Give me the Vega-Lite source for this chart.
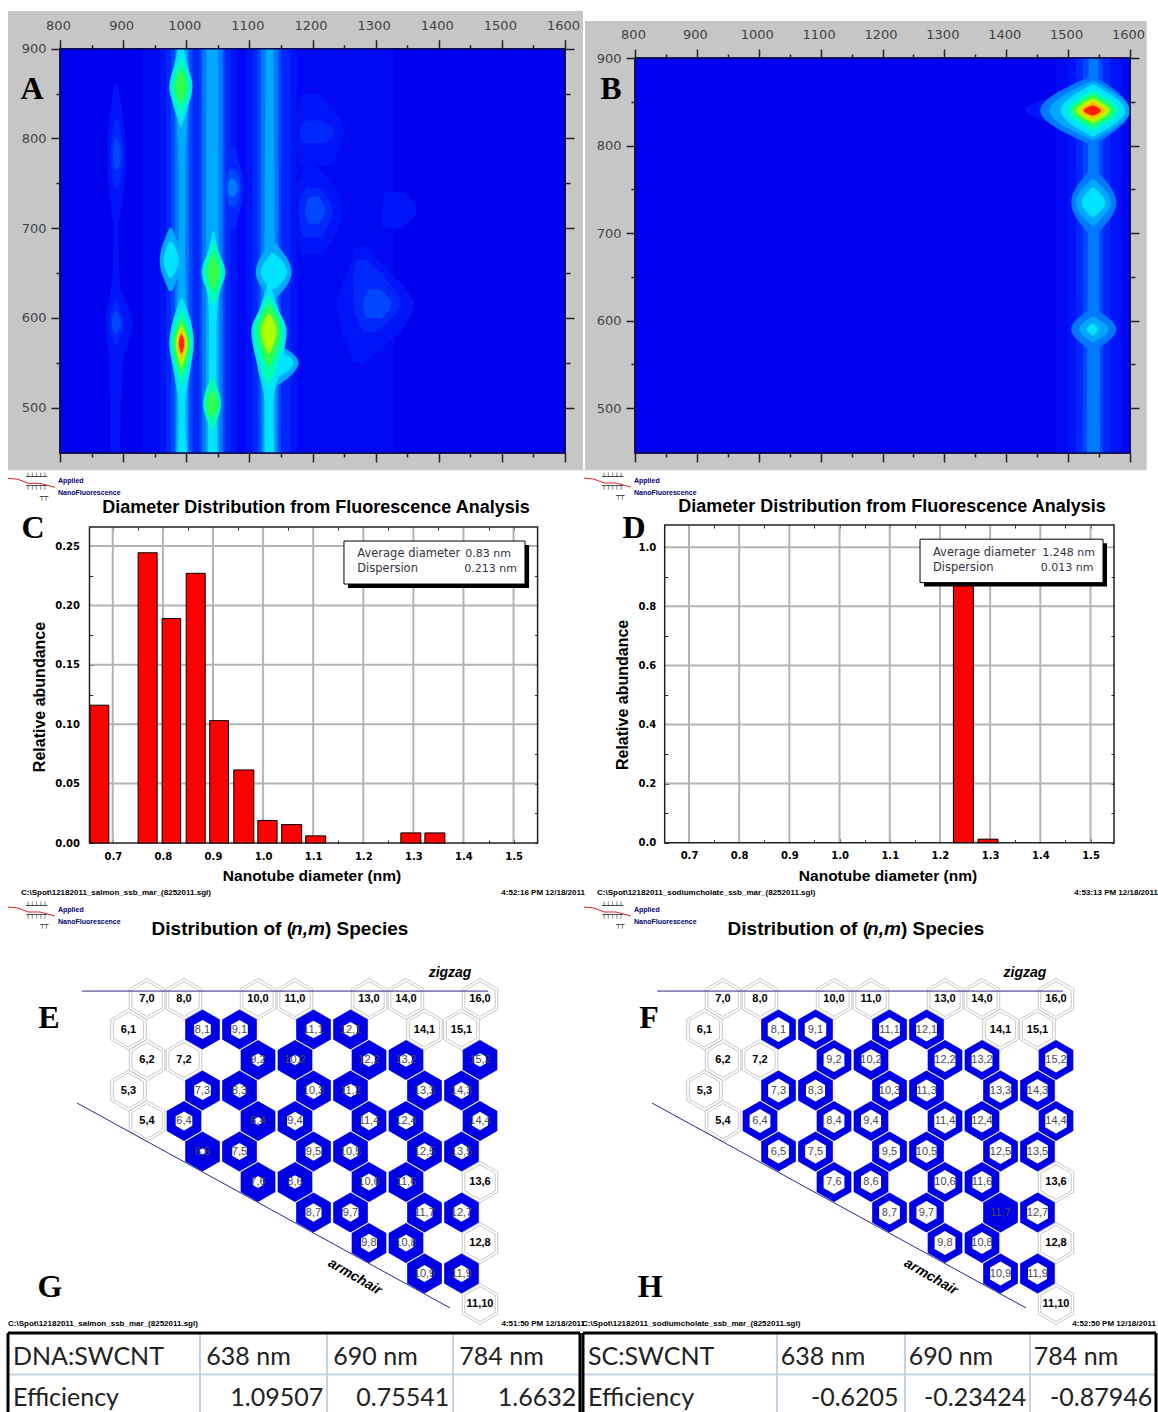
{
"$schema":"https://vega.github.io/schema/vega-lite/v6.json",
"width":1158,"height":1412,"autosize":"none","padding":0,"background":"white",
"config":{"view":{"stroke":null}},
"resolve":{"scale":{"x":"independent","y":"independent"},"axis":{"x":"independent","y":"independent"}},
"datasets":{
"heatA":[
{"c":1,"l":0,"y":449.5,"a":930,"b":1330},{"c":1,"l":0,"y":900,"a":930,"b":1330},
{"c":2,"l":1,"y":449.5,"a":958,"b":1028},{"c":2,"l":1,"y":900,"a":958,"b":1028},
{"c":3,"l":1,"y":449.5,"a":1008,"b":1080},{"c":3,"l":1,"y":900,"a":1008,"b":1080},
{"c":4,"l":1,"y":449.5,"a":1095,"b":1175},{"c":4,"l":1,"y":900,"a":1095,"b":1175},
{"c":5,"l":1,"y":670,"a":1185,"b":1215},{"c":5,"l":1,"y":720,"a":1165,"b":1248},{"c":5,"l":1,"y":770,"a":1190,"b":1205},
{"c":6,"l":1,"y":700,"a":885,"b":892},{"c":6,"l":1,"y":781,"a":875,"b":905},{"c":6,"l":1,"y":860,"a":885,"b":892},
{"c":7,"l":1,"y":449.5,"a":880,"b":895},{"c":7,"l":1,"y":550,"a":878,"b":900},{"c":7,"l":1,"y":594,"a":872,"b":915},{"c":7,"l":1,"y":640,"a":882,"b":895},{"c":7,"l":1,"y":700,"a":885,"b":892},
{"c":8,"l":1,"y":550,"a":1265,"b":1280},{"c":8,"l":1,"y":615,"a":1240,"b":1360},{"c":8,"l":1,"y":660,"a":1260,"b":1310},{"c":8,"l":1,"y":680,"a":1270,"b":1285},
{"c":9,"l":1,"y":770,"a":1180,"b":1230},{"c":9,"l":1,"y":808,"a":1170,"b":1250},{"c":9,"l":1,"y":850,"a":1185,"b":1210},
{"c":10,"l":1,"y":700,"a":1310,"b":1340},{"c":10,"l":1,"y":720,"a":1310,"b":1365},{"c":10,"l":1,"y":740,"a":1315,"b":1345},
{"c":11,"l":2,"y":449.5,"a":968,"b":1018},{"c":11,"l":2,"y":900,"a":968,"b":1018},
{"c":12,"l":2,"y":449.5,"a":1015,"b":1070},{"c":12,"l":2,"y":900,"a":1015,"b":1070},
{"c":13,"l":2,"y":449.5,"a":1105,"b":1165},{"c":13,"l":2,"y":900,"a":1105,"b":1165},
{"c":14,"l":2,"y":690,"a":1185,"b":1215},{"c":14,"l":2,"y":720,"a":1178,"b":1232},{"c":14,"l":2,"y":745,"a":1190,"b":1210},
{"c":15,"l":2,"y":700,"a":1068,"b":1078},{"c":15,"l":2,"y":745,"a":1058,"b":1090},{"c":15,"l":2,"y":790,"a":1068,"b":1078},
{"c":16,"l":2,"y":745,"a":886,"b":892},{"c":16,"l":2,"y":781,"a":880,"b":900},{"c":16,"l":2,"y":820,"a":886,"b":892},
{"c":17,"l":2,"y":570,"a":887,"b":890},{"c":17,"l":2,"y":594,"a":878,"b":900},{"c":17,"l":2,"y":620,"a":887,"b":890},
{"c":18,"l":2,"y":585,"a":1280,"b":1300},{"c":18,"l":2,"y":616,"a":1265,"b":1340},{"c":18,"l":2,"y":640,"a":1265,"b":1320},{"c":18,"l":2,"y":665,"a":1270,"b":1285},
{"c":19,"l":2,"y":795,"a":1185,"b":1220},{"c":19,"l":2,"y":808,"a":1180,"b":1235},{"c":19,"l":2,"y":820,"a":1190,"b":1215},
{"c":20,"l":3,"y":449.5,"a":976,"b":1010},{"c":20,"l":3,"y":900,"a":976,"b":1010},
{"c":21,"l":3,"y":449.5,"a":1021,"b":1062},{"c":21,"l":3,"y":900,"a":1021,"b":1062},
{"c":22,"l":3,"y":449.5,"a":1113,"b":1150},{"c":22,"l":3,"y":900,"a":1113,"b":1150},
{"c":23,"l":3,"y":705,"a":1195,"b":1210},{"c":23,"l":3,"y":720,"a":1188,"b":1220},{"c":23,"l":3,"y":735,"a":1195,"b":1210},
{"c":24,"l":3,"y":725,"a":1068,"b":1078},{"c":24,"l":3,"y":745,"a":1062,"b":1086},{"c":24,"l":3,"y":765,"a":1068,"b":1078},
{"c":25,"l":3,"y":765,"a":887,"b":891},{"c":25,"l":3,"y":781,"a":884,"b":897},{"c":25,"l":3,"y":800,"a":887,"b":891},
{"c":26,"l":3,"y":582,"a":887,"b":890},{"c":26,"l":3,"y":594,"a":882,"b":897},{"c":26,"l":3,"y":608,"a":887,"b":890},
{"c":27,"l":3,"y":600,"a":1285,"b":1310},{"c":27,"l":3,"y":616,"a":1280,"b":1325},{"c":27,"l":3,"y":632,"a":1290,"b":1305},
{"c":28,"l":4,"y":449.5,"a":982,"b":1004},{"c":28,"l":4,"y":900,"a":982,"b":1004},
{"c":29,"l":4,"y":449.5,"a":1025,"b":1058},{"c":29,"l":4,"y":900,"a":1025,"b":1058},
{"c":30,"l":4,"y":449.5,"a":1118,"b":1146},{"c":30,"l":4,"y":900,"a":1118,"b":1146},
{"c":31,"l":4,"y":735,"a":1070,"b":1076},{"c":31,"l":4,"y":745,"a":1066,"b":1082},{"c":31,"l":4,"y":755,"a":1070,"b":1076},
{"c":32,"l":5,"y":449.5,"a":983,"b":1003},{"c":32,"l":5,"y":520,"a":985,"b":1002},{"c":32,"l":5,"y":610,"a":985,"b":1001},{"c":32,"l":5,"y":640,"a":987,"b":999},{"c":32,"l":5,"y":700,"a":988,"b":998},{"c":32,"l":5,"y":760,"a":988,"b":998},{"c":32,"l":5,"y":830,"a":985,"b":1002},{"c":32,"l":5,"y":900,"a":985,"b":1002},
{"c":33,"l":5,"y":449.5,"a":1031,"b":1052},{"c":33,"l":5,"y":900,"a":1032,"b":1051},
{"c":34,"l":5,"y":449.5,"a":1122,"b":1142},{"c":34,"l":5,"y":700,"a":1124,"b":1140},{"c":34,"l":5,"y":900,"a":1126,"b":1138},
{"c":35,"l":5,"y":620,"a":1135,"b":1140},{"c":35,"l":5,"y":651,"a":1110,"b":1167},{"c":35,"l":5,"y":685,"a":1135,"b":1140},
{"c":36,"l":5,"y":630,"a":973,"b":978},{"c":36,"l":5,"y":664,"a":958,"b":992},{"c":36,"l":5,"y":700,"a":973,"b":978},
{"c":37,"l":5,"y":520,"a":1130,"b":1135},{"c":37,"l":5,"y":550,"a":1130,"b":1178},{"c":37,"l":5,"y":575,"a":1130,"b":1135},
{"c":38,"l":6,"y":449.5,"a":986,"b":1001},{"c":38,"l":6,"y":500,"a":988,"b":998},{"c":38,"l":6,"y":540,"a":980,"b":1006},{"c":38,"l":6,"y":572,"a":973,"b":1012},{"c":38,"l":6,"y":600,"a":980,"b":1006},{"c":38,"l":6,"y":622,"a":991,"b":994},
{"c":39,"l":6,"y":812,"a":991,"b":992},{"c":39,"l":6,"y":840,"a":978,"b":1005},{"c":39,"l":6,"y":858,"a":973,"b":1010},{"c":39,"l":6,"y":880,"a":980,"b":1003},{"c":39,"l":6,"y":900,"a":987,"b":996},
{"c":40,"l":6,"y":449.5,"a":1034,"b":1049},{"c":40,"l":6,"y":590,"a":1036,"b":1048},{"c":40,"l":6,"y":625,"a":1034,"b":1052},{"c":40,"l":6,"y":651,"a":1024,"b":1062},{"c":40,"l":6,"y":675,"a":1035,"b":1051},{"c":40,"l":6,"y":697,"a":1042,"b":1044},
{"c":41,"l":6,"y":449.5,"a":1124,"b":1139},{"c":41,"l":6,"y":505,"a":1124,"b":1138},{"c":41,"l":6,"y":545,"a":1113,"b":1150},{"c":41,"l":6,"y":586,"a":1103,"b":1159},{"c":41,"l":6,"y":610,"a":1116,"b":1146},{"c":41,"l":6,"y":640,"a":1130,"b":1132},
{"c":42,"l":6,"y":632,"a":1135,"b":1140},{"c":42,"l":6,"y":651,"a":1118,"b":1160},{"c":42,"l":6,"y":672,"a":1135,"b":1140},
{"c":43,"l":6,"y":645,"a":973,"b":978},{"c":43,"l":6,"y":664,"a":964,"b":988},{"c":43,"l":6,"y":685,"a":973,"b":978},
{"c":44,"l":6,"y":530,"a":1130,"b":1135},{"c":44,"l":6,"y":550,"a":1132,"b":1170},{"c":44,"l":6,"y":568,"a":1130,"b":1135},
{"c":45,"l":7,"y":525,"a":992,"b":993},{"c":45,"l":7,"y":572,"a":977,"b":1009},{"c":45,"l":7,"y":610,"a":992,"b":993},
{"c":46,"l":7,"y":825,"a":991,"b":992},{"c":46,"l":7,"y":858,"a":977,"b":1006},{"c":46,"l":7,"y":890,"a":991,"b":992},
{"c":47,"l":7,"y":615,"a":1042,"b":1044},{"c":47,"l":7,"y":651,"a":1028,"b":1058},{"c":47,"l":7,"y":685,"a":1042,"b":1044},
{"c":48,"l":7,"y":475,"a":1040,"b":1041},{"c":48,"l":7,"y":504,"a":1027,"b":1055},{"c":48,"l":7,"y":535,"a":1040,"b":1041},
{"c":49,"l":7,"y":525,"a":1130,"b":1132},{"c":49,"l":7,"y":586,"a":1108,"b":1154},{"c":49,"l":7,"y":625,"a":1130,"b":1132},
{"c":50,"l":8,"y":535,"a":992,"b":993},{"c":50,"l":8,"y":572,"a":980,"b":1005},{"c":50,"l":8,"y":600,"a":992,"b":993},
{"c":51,"l":8,"y":838,"a":991,"b":992},{"c":51,"l":8,"y":858,"a":982,"b":1001},{"c":51,"l":8,"y":878,"a":991,"b":992},
{"c":52,"l":8,"y":630,"a":1042,"b":1044},{"c":52,"l":8,"y":651,"a":1033,"b":1053},{"c":52,"l":8,"y":672,"a":1042,"b":1044},
{"c":53,"l":8,"y":488,"a":1040,"b":1041},{"c":53,"l":8,"y":504,"a":1032,"b":1050},{"c":53,"l":8,"y":520,"a":1040,"b":1041},
{"c":54,"l":8,"y":545,"a":1130,"b":1132},{"c":54,"l":8,"y":586,"a":1113,"b":1149},{"c":54,"l":8,"y":615,"a":1130,"b":1132},
{"c":55,"l":9,"y":545,"a":992,"b":993},{"c":55,"l":9,"y":572,"a":983,"b":1002},{"c":55,"l":9,"y":592,"a":992,"b":993},
{"c":56,"l":9,"y":560,"a":1130,"b":1132},{"c":56,"l":9,"y":586,"a":1119,"b":1143},{"c":56,"l":9,"y":605,"a":1130,"b":1132},
{"c":57,"l":10,"y":553,"a":992,"b":993},{"c":57,"l":10,"y":572,"a":986,"b":999},{"c":57,"l":10,"y":588,"a":992,"b":993},
{"c":58,"l":11,"y":560,"a":992,"b":993},{"c":58,"l":11,"y":572,"a":988,"b":997},{"c":58,"l":11,"y":582,"a":992,"b":993}
],
"heatB":[
{"c":1,"l":0,"y":448.6,"a":1480,"b":1600},{"c":1,"l":0,"y":900,"a":1480,"b":1600},
{"c":2,"l":1,"y":448.6,"a":1500,"b":1585},{"c":2,"l":1,"y":900,"a":1500,"b":1585},
{"c":3,"l":1,"y":820,"a":1500,"b":1560},{"c":3,"l":1,"y":840,"a":1430,"b":1600},{"c":3,"l":1,"y":860,"a":1500,"b":1560},
{"c":4,"l":2,"y":448.6,"a":1513,"b":1568},{"c":4,"l":2,"y":900,"a":1513,"b":1568},
{"c":5,"l":3,"y":448.6,"a":1524,"b":1556},{"c":5,"l":3,"y":900,"a":1524,"b":1556},
{"c":6,"l":4,"y":448.6,"a":1530,"b":1552},{"c":6,"l":4,"y":900,"a":1533,"b":1549},
{"c":7,"l":4,"y":565,"a":1539,"b":1541},{"c":7,"l":4,"y":590,"a":1505,"b":1578},{"c":7,"l":4,"y":615,"a":1539,"b":1541},
{"c":8,"l":4,"y":695,"a":1539,"b":1541},{"c":8,"l":4,"y":735,"a":1505,"b":1578},{"c":8,"l":4,"y":775,"a":1539,"b":1541},
{"c":9,"l":4,"y":800,"a":1539,"b":1541},{"c":9,"l":4,"y":840,"a":1455,"b":1600},{"c":9,"l":4,"y":880,"a":1539,"b":1541},
{"c":10,"l":5,"y":575,"a":1539,"b":1541},{"c":10,"l":5,"y":590,"a":1518,"b":1565},{"c":10,"l":5,"y":605,"a":1539,"b":1541},
{"c":11,"l":5,"y":708,"a":1539,"b":1541},{"c":11,"l":5,"y":735,"a":1512,"b":1569},{"c":11,"l":5,"y":762,"a":1539,"b":1541},
{"c":12,"l":5,"y":806,"a":1539,"b":1541},{"c":12,"l":5,"y":840,"a":1470,"b":1600},{"c":12,"l":5,"y":874,"a":1539,"b":1541},
{"c":13,"l":6,"y":583,"a":1539,"b":1541},{"c":13,"l":6,"y":590,"a":1530,"b":1548},{"c":13,"l":6,"y":597,"a":1539,"b":1541},
{"c":14,"l":6,"y":718,"a":1539,"b":1541},{"c":14,"l":6,"y":735,"a":1522,"b":1560},{"c":14,"l":6,"y":752,"a":1539,"b":1541},
{"c":15,"l":6,"y":810,"a":1539,"b":1541},{"c":15,"l":6,"y":840,"a":1488,"b":1592},{"c":15,"l":6,"y":870,"a":1539,"b":1541},
{"c":16,"l":7,"y":817,"a":1539,"b":1541},{"c":16,"l":7,"y":840,"a":1500,"b":1582},{"c":16,"l":7,"y":863,"a":1539,"b":1541},
{"c":17,"l":8,"y":822,"a":1539,"b":1541},{"c":17,"l":8,"y":840,"a":1507,"b":1573},{"c":17,"l":8,"y":858,"a":1539,"b":1541},
{"c":18,"l":9,"y":826,"a":1539,"b":1541},{"c":18,"l":9,"y":840,"a":1513,"b":1567},{"c":18,"l":9,"y":854,"a":1539,"b":1541},
{"c":19,"l":10,"y":830,"a":1539,"b":1541},{"c":19,"l":10,"y":840,"a":1520,"b":1560},{"c":19,"l":10,"y":850,"a":1539,"b":1541},
{"c":20,"l":11,"y":834,"a":1539,"b":1541},{"c":20,"l":11,"y":840,"a":1525,"b":1553},{"c":20,"l":11,"y":846,"a":1539,"b":1541}
],
"hexGray":[
{"t":"7,0","c":7,"m":0},{"t":"8,0","c":8,"m":0},{"t":"10,0","c":10,"m":0},{"t":"11,0","c":11,"m":0},{"t":"13,0","c":13,"m":0},{"t":"14,0","c":14,"m":0},{"t":"16,0","c":16,"m":0},
{"t":"6,1","c":6.5,"m":1},{"t":"14,1","c":14.5,"m":1},{"t":"15,1","c":15.5,"m":1},
{"t":"6,2","c":7,"m":2},{"t":"7,2","c":8,"m":2},{"t":"5,3","c":6.5,"m":3},{"t":"5,4","c":7,"m":4},
{"t":"13,6","c":16,"m":6},{"t":"12,8","c":16,"m":8},{"t":"11,10","c":16,"m":10}
],
"hexBlue":[
{"t":"8,1","c":8.5,"m":1,"e":0.48,"f":0.62},{"t":"9,1","c":9.5,"m":1,"e":0.48,"f":0.62},{"t":"11,1","c":11.5,"m":1,"e":0.44,"f":0.6},{"t":"12,1","c":12.5,"m":1,"e":0.38,"f":0.6},
{"t":"9,2","c":10,"m":2,"e":0.32,"f":0.6},{"t":"10,2","c":11,"m":2,"e":0.26,"f":0.55},{"t":"12,2","c":13,"m":2,"e":0.34,"f":0.6},{"t":"13,2","c":14,"m":2,"e":0.34,"f":0.6},{"t":"15,2","c":16,"m":2,"e":0.34,"f":0.62},
{"t":"7,3","c":8.5,"m":3,"e":0.48,"f":0.6},{"t":"8,3","c":9.5,"m":3,"e":0.36,"f":0.55},{"t":"10,3","c":11.5,"m":3,"e":0.42,"f":0.55},{"t":"11,3","c":12.5,"m":3,"e":0.34,"f":0.55},{"t":"13,3","c":14.5,"m":3,"e":0.42,"f":0.62},{"t":"14,3","c":15.5,"m":3,"e":0.42,"f":0.58},
{"t":"6,4","c":8,"m":4,"e":0.48,"f":0.6},{"t":"8,4","c":10,"m":4,"e":0.2,"f":0.6},{"t":"9,4","c":11,"m":4,"e":0.46,"f":0.58},{"t":"11,4","c":13,"m":4,"e":0.46,"f":0.62},{"t":"12,4","c":14,"m":4,"e":0.42,"f":0.58},{"t":"14,4","c":16,"m":4,"e":0.46,"f":0.62},
{"t":"6,5","c":8.5,"m":5,"e":0.16,"f":0.6},{"t":"7,5","c":9.5,"m":5,"e":0.42,"f":0.6},{"t":"9,5","c":11.5,"m":5,"e":0.46,"f":0.6},{"t":"10,5","c":12.5,"m":5,"e":0.42,"f":0.58},{"t":"12,5","c":14.5,"m":5,"e":0.42,"f":0.62},{"t":"13,5","c":15.5,"m":5,"e":0.4,"f":0.6},
{"t":"7,6","c":10,"m":6,"e":0.3,"f":0.6},{"t":"8,6","c":11,"m":6,"e":0.34,"f":0.58},{"t":"10,6","c":13,"m":6,"e":0.42,"f":0.6},{"t":"11,6","c":14,"m":6,"e":0.36,"f":0.55},
{"t":"8,7","c":11.5,"m":7,"e":0.46,"f":0.6},{"t":"9,7","c":12.5,"m":7,"e":0.46,"f":0.58},{"t":"11,7","c":14.5,"m":7,"e":0.46,"f":0},{"t":"12,7","c":15.5,"m":7,"e":0.46,"f":0.6},
{"t":"9,8","c":13,"m":8,"e":0.46,"f":0.6},{"t":"10,8","c":14,"m":8,"e":0.42,"f":0.55},{"t":"10,9","c":14.5,"m":9,"e":0.42,"f":0.6},{"t":"11,9","c":15.5,"m":9,"e":0.42,"f":0.55}
]
},
"layer":[
{"resolve":{"axis":{"x":"independent","y":"independent"}},"layer":[
 {"mark":{"type":"rect","fill":"#c6c6c6"},"data":{"values":[{"a":717.6,"b":1628.5,"c":430.2,"d":942}]},"encoding":{"x":{"field":"a","type":"quantitative","axis":null,"scale":{"domain":[800,1600],"range":[60,565]}},"x2":{"field":"b"},"y":{"field":"c","type":"quantitative","axis":null,"scale":{"domain":[449.5,900],"range":[453,48.7]}},"y2":{"field":"d"}}},
 {"mark":{"type":"rect","fill":"#0000f0","stroke":"#0a0a50","strokeWidth":1.5},"data":{"values":[{"a":800,"b":1600,"c":449.5,"d":900}]},"encoding":{"x":{"field":"a","type":"quantitative","title":null,"scale":{"domain":[800,1600],"range":[60,565]},"axis":{"orient":"top","offset":-48.7,"zindex":1,"values":[800,850,900,950,1000,1050,1100,1150,1200,1250,1300,1350,1400,1450,1500,1550,1600],"labelExpr":"datum.value%100==0?format(datum.value,'d'):''","labelFont":"DejaVu Sans","labelFontSize":13,"labelColor":"#444","labelPadding":7,"labelOffset":-2,"labelOverlap":false,"labelFlush":false,"grid":false,"tickColor":"#222","tickWidth":1.5,"tickSize":{"condition":{"test":"datum.value%100==0","value":9},"value":4},"domain":false}},"x2":{"field":"b"},"y":{"field":"c","type":"quantitative","title":null,"scale":{"domain":[449.5,900],"range":[453,48.7]},"axis":{"orient":"left","offset":-60,"zindex":1,"values":[500,550,600,650,700,750,800,850,900],"labelExpr":"datum.value%100==0?format(datum.value,'d'):''","labelFont":"DejaVu Sans","labelFontSize":13,"labelColor":"#444","labelPadding":5,"labelOverlap":false,"labelFlush":false,"grid":false,"tickColor":"#222","tickWidth":1.5,"tickSize":{"condition":{"test":"datum.value%100==0","value":9},"value":4},"domain":false}},"y2":{"field":"d"}}},
 {"mark":{"type":"area","orient":"horizontal","interpolate":"monotone"},"data":{"name":"heatA"},"encoding":{"y":{"field":"y","type":"quantitative","axis":null,"scale":{"domain":[449.5,900],"range":[453,48.7]}},"x":{"field":"a","type":"quantitative","axis":null,"scale":{"domain":[800,1600],"range":[60,565]}},"x2":{"field":"b"},"detail":{"field":"c"},"color":{"field":"l","type":"ordinal","legend":null,"scale":{"domain":[0,1,2,3,4,5,6,7,8,9,10,11],"range":["#0008f4","#0014f8","#0028fc","#0048ff","#0078ff","#00a8ff","#00e4ff","#00ffb0","#30ff50","#b0ff00","#ffc000","#ff2000"]}}}},
 {"mark":{"type":"rect","fill":null,"stroke":"#0a0a50","strokeWidth":1.5},"data":{"values":[{"a":800,"b":1600,"c":449.5,"d":900}]},"encoding":{"x":{"field":"a","type":"quantitative","title":null,"scale":{"domain":[800,1600],"range":[60,565]},"axis":{"orient":"bottom","offset":-959,"zindex":1,"values":[800,850,900,950,1000,1050,1100,1150,1200,1250,1300,1350,1400,1450,1500,1550,1600],"labels":false,"grid":false,"tickColor":"#222","tickWidth":1.5,"tickSize":{"condition":{"test":"datum.value%100==0","value":9},"value":4},"domain":false}},"x2":{"field":"b"},"y":{"field":"c","type":"quantitative","title":null,"scale":{"domain":[449.5,900],"range":[453,48.7]},"axis":{"orient":"right","offset":-593,"zindex":1,"values":[500,550,600,650,700,750,800,850,900],"labels":false,"grid":false,"tickColor":"#222","tickWidth":1.5,"tickSize":{"condition":{"test":"datum.value%100==0","value":9},"value":5},"domain":false}},"y2":{"field":"d"}}},
 {"mark":{"type":"text","font":"Liberation Serif","fontWeight":"bold","fontSize":32,"color":"#000"},"data":{"values":[{"x":755.6,"y":855,"t":"A"}]},"encoding":{"x":{"field":"x","type":"quantitative","axis":null,"scale":{"domain":[800,1600],"range":[60,565]}},"y":{"field":"y","type":"quantitative","axis":null,"scale":{"domain":[449.5,900],"range":[453,48.7]}},"text":{"field":"t"}}},
 {"mark":{"type":"text","font":"Liberation Sans","fontWeight":"bold","fontSize":7,"color":"#000070","align":"left"},"data":{"values":[{"x":796.8,"y":417.9,"t":"Applied"},{"x":796.8,"y":404.5,"t":"NanoFluorescence"}]},"encoding":{"x":{"field":"x","type":"quantitative","axis":null,"scale":{"domain":[800,1600],"range":[60,565]}},"y":{"field":"y","type":"quantitative","axis":null,"scale":{"domain":[449.5,900],"range":[453,48.7]}},"text":{"field":"t"}}},
 {"mark":{"type":"text","font":"DejaVu Sans","fontSize":7,"color":"#222","align":"left"},"data":{"values":[{"x":746,"y":422.4,"t":"┴┴┴┴┴"},{"x":746,"y":412.3,"t":"┬┬┬┬┬"},{"x":768,"y":401,"t":"┬┬"}]},"encoding":{"x":{"field":"x","type":"quantitative","axis":null,"scale":{"domain":[800,1600],"range":[60,565]}},"y":{"field":"y","type":"quantitative","axis":null,"scale":{"domain":[449.5,900],"range":[453,48.7]}},"text":{"field":"t"}}},
 {"mark":{"type":"line","color":"#e02020","strokeWidth":1},"data":{"values":[{"x":717.6,"y":421.3},{"x":733.5,"y":420.2},{"x":749.3,"y":415.7},{"x":768.3,"y":415.7},{"x":792.1,"y":411.3}]},"encoding":{"x":{"field":"x","type":"quantitative","axis":null,"scale":{"domain":[800,1600],"range":[60,565]}},"y":{"field":"y","type":"quantitative","axis":null,"scale":{"domain":[449.5,900],"range":[453,48.7]}}}}
]},
{"resolve":{"axis":{"x":"independent","y":"independent"}},"layer":[
 {"mark":{"type":"rect","fill":"#c6c6c6"},"data":{"values":[{"a":719.2,"b":1627,"c":429,"d":942.3}]},"encoding":{"x":{"field":"a","type":"quantitative","axis":null,"scale":{"domain":[800,1600],"range":[635,1130]}},"x2":{"field":"b"},"y":{"field":"c","type":"quantitative","axis":null,"scale":{"domain":[448.6,900],"range":[453,58]}},"y2":{"field":"d"}}},
 {"mark":{"type":"rect","fill":"#0000f0","stroke":"#0a0a50","strokeWidth":1.5},"data":{"values":[{"a":800,"b":1600,"c":448.6,"d":900}]},"encoding":{"x":{"field":"a","type":"quantitative","title":null,"scale":{"domain":[800,1600],"range":[635,1130]},"axis":{"orient":"top","offset":-58,"zindex":1,"values":[800,850,900,950,1000,1050,1100,1150,1200,1250,1300,1350,1400,1450,1500,1550,1600],"labelExpr":"datum.value%100==0?format(datum.value,'d'):''","labelFont":"DejaVu Sans","labelFontSize":13,"labelColor":"#444","labelPadding":8,"labelOffset":-2,"labelOverlap":false,"labelFlush":false,"grid":false,"tickColor":"#222","tickWidth":1.5,"tickSize":{"condition":{"test":"datum.value%100==0","value":9},"value":4},"domain":false}},"x2":{"field":"b"},"y":{"field":"c","type":"quantitative","title":null,"scale":{"domain":[448.6,900],"range":[453,58]},"axis":{"orient":"left","offset":-635,"zindex":1,"values":[500,550,600,650,700,750,800,850,900],"labelExpr":"datum.value%100==0?format(datum.value,'d'):''","labelFont":"DejaVu Sans","labelFontSize":13,"labelColor":"#444","labelPadding":5,"labelOverlap":false,"labelFlush":false,"grid":false,"tickColor":"#222","tickWidth":1.5,"tickSize":{"condition":{"test":"datum.value%100==0","value":9},"value":4},"domain":false}},"y2":{"field":"d"}}},
 {"mark":{"type":"area","orient":"horizontal","interpolate":"monotone"},"data":{"name":"heatB"},"encoding":{"y":{"field":"y","type":"quantitative","axis":null,"scale":{"domain":[448.6,900],"range":[453,58]}},"x":{"field":"a","type":"quantitative","axis":null,"scale":{"domain":[800,1600],"range":[635,1130]}},"x2":{"field":"b"},"detail":{"field":"c"},"color":{"field":"l","type":"ordinal","legend":null,"scale":{"domain":[0,1,2,3,4,5,6,7,8,9,10,11],"range":["#0008f4","#0014f8","#0028fc","#0048ff","#0078ff","#00a8ff","#00e4ff","#00ffb0","#30ff50","#b0ff00","#ffc000","#ff2000"]}}}},
 {"mark":{"type":"rect","fill":null,"stroke":"#0a0a50","strokeWidth":1.5},"data":{"values":[{"a":800,"b":1600,"c":448.6,"d":900}]},"encoding":{"x":{"field":"a","type":"quantitative","title":null,"scale":{"domain":[800,1600],"range":[635,1130]},"axis":{"orient":"bottom","offset":-959,"zindex":1,"values":[800,850,900,950,1000,1050,1100,1150,1200,1250,1300,1350,1400,1450,1500,1550,1600],"labels":false,"grid":false,"tickColor":"#222","tickWidth":1.5,"tickSize":{"condition":{"test":"datum.value%100==0","value":9},"value":4},"domain":false}},"x2":{"field":"b"},"y":{"field":"c","type":"quantitative","title":null,"scale":{"domain":[448.6,900],"range":[453,58]},"axis":{"orient":"right","offset":-28,"zindex":1,"values":[500,550,600,650,700,750,800,850,900],"labels":false,"grid":false,"tickColor":"#222","tickWidth":1.5,"tickSize":{"condition":{"test":"datum.value%100==0","value":9},"value":5},"domain":false}},"y2":{"field":"d"}}},
 {"mark":{"type":"text","font":"Liberation Serif","fontWeight":"bold","fontSize":32,"color":"#000"},"data":{"values":[{"x":761,"y":864.6,"t":"B"}]},"encoding":{"x":{"field":"x","type":"quantitative","axis":null,"scale":{"domain":[800,1600],"range":[635,1130]}},"y":{"field":"y","type":"quantitative","axis":null,"scale":{"domain":[448.6,900],"range":[453,58]}},"text":{"field":"t"}}},
 {"mark":{"type":"text","font":"Liberation Sans","fontWeight":"bold","fontSize":7,"color":"#000070","align":"left"},"data":{"values":[{"x":798.4,"y":416.6,"t":"Applied"},{"x":798.4,"y":402.8,"t":"NanoFluorescence"}]},"encoding":{"x":{"field":"x","type":"quantitative","axis":null,"scale":{"domain":[800,1600],"range":[635,1130]}},"y":{"field":"y","type":"quantitative","axis":null,"scale":{"domain":[448.6,900],"range":[453,58]}},"text":{"field":"t"}}},
 {"mark":{"type":"text","font":"DejaVu Sans","fontSize":7,"color":"#222","align":"left"},"data":{"values":[{"x":746.7,"y":421.1,"t":"┴┴┴┴┴"},{"x":746.7,"y":410.8,"t":"┬┬┬┬┬"},{"x":769.3,"y":399.4,"t":"┬┬"}]},"encoding":{"x":{"field":"x","type":"quantitative","axis":null,"scale":{"domain":[800,1600],"range":[635,1130]}},"y":{"field":"y","type":"quantitative","axis":null,"scale":{"domain":[448.6,900],"range":[453,58]}},"text":{"field":"t"}}},
 {"mark":{"type":"line","color":"#e02020","strokeWidth":1},"data":{"values":[{"x":717.6,"y":420},{"x":733.7,"y":418.8},{"x":749.9,"y":414.3},{"x":769.3,"y":414.3},{"x":793.5,"y":409.7}]},"encoding":{"x":{"field":"x","type":"quantitative","axis":null,"scale":{"domain":[800,1600],"range":[635,1130]}},"y":{"field":"y","type":"quantitative","axis":null,"scale":{"domain":[448.6,900],"range":[453,58]}}}}
]},
{"resolve":{"axis":{"x":"independent","y":"independent"}},"layer":[
 {"mark":{"type":"rule","color":"#b4b4b4","strokeWidth":2},"data":{"values":[{"a":0.7},{"a":0.8},{"a":0.9},{"a":1.0},{"a":1.1},{"a":1.2},{"a":1.3},{"a":1.4},{"a":1.5}]},"encoding":{"x":{"field":"a","type":"quantitative","axis":null,"scale":{"domain":[0.6535,1.548],"range":[89.5,537.6]}},"y":{"datum":0,"type":"quantitative","axis":null,"scale":{"domain":[0,0.266],"range":[843,527]}},"y2":{"datum":0.266}}},
 {"mark":{"type":"rule","color":"#b4b4b4","strokeWidth":2},"data":{"values":[{"c":0.05},{"c":0.1},{"c":0.15},{"c":0.2},{"c":0.25}]},"encoding":{"y":{"field":"c","type":"quantitative","axis":null,"scale":{"domain":[0,0.266],"range":[843,527]}},"x":{"datum":0.6535,"type":"quantitative","axis":null,"scale":{"domain":[0.6535,1.548],"range":[89.5,537.6]}},"x2":{"datum":1.548}}},
 {"mark":{"type":"rect","fill":null,"stroke":"#222","strokeWidth":1.5},"data":{"values":[{"a":0.6535,"b":1.548,"c":0,"d":0.266}]},"encoding":{"x":{"field":"a","type":"quantitative","title":null,"scale":{"domain":[0.6535,1.548],"range":[89.5,537.6]},"axis":{"orient":"bottom","offset":-569,"values":[0.7,0.8,0.9,1.0,1.1,1.2,1.3,1.4,1.5],"format":".1f","labelFont":"DejaVu Sans","labelFontWeight":"bold","labelFontSize":10,"labelColor":"#000","labelPadding":12,"labelFlush":false,"labelOverlap":false,"grid":false,"tickColor":"#222","tickSize":-4,"domain":false}},"x2":{"field":"b"},"y":{"field":"c","type":"quantitative","title":null,"scale":{"domain":[0,0.266],"range":[843,527]},"axis":{"orient":"left","offset":-89.5,"values":[0,0.05,0.1,0.15,0.2,0.25],"format":".2f","labelFont":"DejaVu Sans","labelFontWeight":"bold","labelFontSize":10,"labelColor":"#000","labelPadding":14,"labelFlush":false,"labelOverlap":false,"grid":false,"tickColor":"#222","tickSize":-4,"domain":false}},"y2":{"field":"d"}}},
 {"mark":{"type":"rect","opacity":0},"data":{"values":[{"a":0.6535,"b":1.548,"c":0,"d":0.266}]},"encoding":{"x":{"field":"a","type":"quantitative","title":null,"scale":{"domain":[0.6535,1.548],"range":[89.5,537.6]},"axis":{"orient":"top","offset":-527,"values":[0.7,0.75,0.8,0.85,0.9,0.95,1.0,1.05,1.1,1.15,1.2,1.25,1.3,1.35,1.4,1.45,1.5],"labels":false,"grid":false,"tickColor":"#222","tickSize":-3,"domain":false}},"x2":{"field":"b"},"y":{"field":"c","type":"quantitative","title":null,"scale":{"domain":[0,0.266],"range":[843,527]},"axis":{"orient":"right","offset":-620.4,"values":[0,0.025,0.05,0.075,0.1,0.125,0.15,0.175,0.2,0.225,0.25],"labels":false,"grid":false,"tickColor":"#222","tickSize":-3,"domain":false}},"y2":{"field":"d"}}},
 {"mark":{"type":"rect","opacity":0},"data":{"values":[{"a":0.6535,"b":1.548,"c":0,"d":0.266}]},"encoding":{"x":{"field":"a","type":"quantitative","title":null,"scale":{"domain":[0.6535,1.548],"range":[89.5,537.6]},"axis":{"orient":"bottom","offset":-569,"values":[0.75,0.85,0.95,1.05,1.15,1.25,1.35,1.45],"labels":false,"grid":false,"tickColor":"#222","tickSize":-3,"domain":false}},"x2":{"field":"b"},"y":{"field":"c","type":"quantitative","title":null,"scale":{"domain":[0,0.266],"range":[843,527]},"axis":{"orient":"left","offset":-89.5,"values":[0.025,0.075,0.125,0.175,0.225],"labels":false,"grid":false,"tickColor":"#222","tickSize":-3,"domain":false}},"y2":{"field":"d"}}},
 {"mark":{"type":"bar","fill":"#ff0000","stroke":"#000","strokeWidth":1},"data":{"values":[{"a":0.6545,"b":0.692,"v":0.116},{"a":0.7505,"b":0.7885,"v":0.2443},{"a":0.7985,"b":0.8355,"v":0.189},{"a":0.8465,"b":0.8845,"v":0.227},{"a":0.8935,"b":0.931,"v":0.103},{"a":0.9415,"b":0.9815,"v":0.0615},{"a":0.9895,"b":1.028,"v":0.019},{"a":1.037,"b":1.077,"v":0.0155},{"a":1.085,"b":1.125,"v":0.006},{"a":1.275,"b":1.315,"v":0.0085},{"a":1.323,"b":1.363,"v":0.0085}]},"encoding":{"x":{"field":"a","type":"quantitative","axis":null,"scale":{"domain":[0.6535,1.548],"range":[89.5,537.6]}},"x2":{"field":"b"},"y":{"field":"v","type":"quantitative","axis":null,"scale":{"domain":[0,0.266],"range":[843,527]}},"y2":{"datum":0}}},
 {"mark":{"type":"rect","fill":"#000"},"data":{"values":[{"a":1.1695,"b":1.531,"c":0.2146,"d":0.2508}]},"encoding":{"x":{"field":"a","type":"quantitative","axis":null,"scale":{"domain":[0.6535,1.548],"range":[89.5,537.6]}},"x2":{"field":"b"},"y":{"field":"c","type":"quantitative","axis":null,"scale":{"domain":[0,0.266],"range":[843,527]}},"y2":{"field":"d"}}},
 {"mark":{"type":"rect","fill":"#fff","stroke":"#000","strokeWidth":1},"data":{"values":[{"a":1.1615,"b":1.5228,"c":0.218,"d":0.2542}]},"encoding":{"x":{"field":"a","type":"quantitative","axis":null,"scale":{"domain":[0.6535,1.548],"range":[89.5,537.6]}},"x2":{"field":"b"},"y":{"field":"c","type":"quantitative","axis":null,"scale":{"domain":[0,0.266],"range":[843,527]}},"y2":{"field":"d"}}},
 {"mark":{"type":"text","font":"DejaVu Sans","fontSize":11.5,"color":"#334","align":"left"},"data":{"values":[{"x":1.188,"y":0.2432,"t":"Average diameter"},{"x":1.188,"y":0.2306,"t":"Dispersion"}]},"encoding":{"x":{"field":"x","type":"quantitative","axis":null,"scale":{"domain":[0.6535,1.548],"range":[89.5,537.6]}},"y":{"field":"y","type":"quantitative","axis":null,"scale":{"domain":[0,0.266],"range":[843,527]}},"text":{"field":"t"}}},
 {"mark":{"type":"text","font":"DejaVu Sans","fontSize":11,"color":"#334","align":"right"},"data":{"values":[{"x":1.495,"y":0.2432,"t":"0.83 nm"},{"x":1.507,"y":0.2306,"t":"0.213 nm"}]},"encoding":{"x":{"field":"x","type":"quantitative","axis":null,"scale":{"domain":[0.6535,1.548],"range":[89.5,537.6]}},"y":{"field":"y","type":"quantitative","axis":null,"scale":{"domain":[0,0.266],"range":[843,527]}},"text":{"field":"t"}}},
 {"mark":{"type":"text","font":"Liberation Sans","fontWeight":"bold","fontSize":18,"color":"#000"},"data":{"values":[{"x":1.1056,"y":0.282,"t":"Diameter Distribution from Fluorescence Analysis"}]},"encoding":{"x":{"field":"x","type":"quantitative","axis":null,"scale":{"domain":[0.6535,1.548],"range":[89.5,537.6]}},"y":{"field":"y","type":"quantitative","axis":null,"scale":{"domain":[0,0.266],"range":[843,527]}},"text":{"field":"t"}}},
 {"mark":{"type":"text","font":"Liberation Sans","fontWeight":"bold","fontSize":15.5,"color":"#000"},"data":{"values":[{"x":1.0976,"y":-0.0278,"t":"Nanotube diameter (nm)"}]},"encoding":{"x":{"field":"x","type":"quantitative","axis":null,"scale":{"domain":[0.6535,1.548],"range":[89.5,537.6]}},"y":{"field":"y","type":"quantitative","axis":null,"scale":{"domain":[0,0.266],"range":[843,527]}},"text":{"field":"t"}}},
 {"mark":{"type":"text","font":"Liberation Sans","fontWeight":"bold","fontSize":16,"color":"#000","angle":270},"data":{"values":[{"x":0.5547,"y":0.1229,"t":"Relative abundance"}]},"encoding":{"x":{"field":"x","type":"quantitative","axis":null,"scale":{"domain":[0.6535,1.548],"range":[89.5,537.6]}},"y":{"field":"y","type":"quantitative","axis":null,"scale":{"domain":[0,0.266],"range":[843,527]}},"text":{"field":"t"}}},
 {"mark":{"type":"text","font":"Liberation Serif","fontWeight":"bold","fontSize":32,"color":"#000"},"data":{"values":[{"x":0.5407,"y":0.2652,"t":"C"}]},"encoding":{"x":{"field":"x","type":"quantitative","axis":null,"scale":{"domain":[0.6535,1.548],"range":[89.5,537.6]}},"y":{"field":"y","type":"quantitative","axis":null,"scale":{"domain":[0,0.266],"range":[843,527]}},"text":{"field":"t"}}},
 {"mark":{"type":"text","font":"Liberation Sans","fontWeight":"bold","fontSize":8,"color":"#000","align":"left"},"data":{"values":[{"x":0.5168,"y":-0.0421,"t":"C:\\Spot\\12182011_salmon_ssb_mar_(8252011.sgl)"}]},"encoding":{"x":{"field":"x","type":"quantitative","axis":null,"scale":{"domain":[0.6535,1.548],"range":[89.5,537.6]}},"y":{"field":"y","type":"quantitative","axis":null,"scale":{"domain":[0,0.266],"range":[843,527]}},"text":{"field":"t"}}},
 {"mark":{"type":"text","font":"Liberation Sans","fontWeight":"bold","fontSize":8,"color":"#000","align":"right"},"data":{"values":[{"x":1.6425,"y":-0.0421,"t":"4:52:16 PM 12/18/2011"}]},"encoding":{"x":{"field":"x","type":"quantitative","axis":null,"scale":{"domain":[0.6535,1.548],"range":[89.5,537.6]}},"y":{"field":"y","type":"quantitative","axis":null,"scale":{"domain":[0,0.266],"range":[843,527]}},"text":{"field":"t"}}}
]},
{"resolve":{"axis":{"x":"independent","y":"independent"}},"layer":[
 {"mark":{"type":"rule","color":"#b4b4b4","strokeWidth":2},"data":{"values":[{"a":0.7},{"a":0.8},{"a":0.9},{"a":1.0},{"a":1.1},{"a":1.2},{"a":1.3},{"a":1.4},{"a":1.5}]},"encoding":{"x":{"field":"a","type":"quantitative","axis":null,"scale":{"domain":[0.6516,1.5468],"range":[664.7,1114]}},"y":{"datum":0,"type":"quantitative","axis":null,"scale":{"domain":[0,1.075],"range":[842.7,525]}},"y2":{"datum":1.075}}},
 {"mark":{"type":"rule","color":"#b4b4b4","strokeWidth":2},"data":{"values":[{"c":0.2},{"c":0.4},{"c":0.6},{"c":0.8},{"c":1.0}]},"encoding":{"y":{"field":"c","type":"quantitative","axis":null,"scale":{"domain":[0,1.075],"range":[842.7,525]}},"x":{"datum":0.6516,"type":"quantitative","axis":null,"scale":{"domain":[0.6516,1.5468],"range":[664.7,1114]}},"x2":{"datum":1.5468}}},
 {"mark":{"type":"rect","fill":null,"stroke":"#222","strokeWidth":1.5},"data":{"values":[{"a":0.6516,"b":1.5468,"c":0,"d":1.075}]},"encoding":{"x":{"field":"a","type":"quantitative","title":null,"scale":{"domain":[0.6516,1.5468],"range":[664.7,1114]},"axis":{"orient":"bottom","offset":-569.3,"values":[0.7,0.8,0.9,1.0,1.1,1.2,1.3,1.4,1.5],"format":".1f","labelFont":"DejaVu Sans","labelFontWeight":"bold","labelFontSize":10,"labelColor":"#000","labelPadding":12,"labelFlush":false,"labelOverlap":false,"grid":false,"tickColor":"#222","tickSize":-4,"domain":false}},"x2":{"field":"b"},"y":{"field":"c","type":"quantitative","title":null,"scale":{"domain":[0,1.075],"range":[842.7,525]},"axis":{"orient":"left","offset":-664.7,"values":[0,0.2,0.4,0.6,0.8,1.0],"format":".1f","labelFont":"DejaVu Sans","labelFontWeight":"bold","labelFontSize":10,"labelColor":"#000","labelPadding":13,"labelFlush":false,"labelOverlap":false,"grid":false,"tickColor":"#222","tickSize":-4,"domain":false}},"y2":{"field":"d"}}},
 {"mark":{"type":"rect","opacity":0},"data":{"values":[{"a":0.6516,"b":1.5468,"c":0,"d":1.075}]},"encoding":{"x":{"field":"a","type":"quantitative","title":null,"scale":{"domain":[0.6516,1.5468],"range":[664.7,1114]},"axis":{"orient":"top","offset":-525,"values":[0.7,0.75,0.8,0.85,0.9,0.95,1.0,1.05,1.1,1.15,1.2,1.25,1.3,1.35,1.4,1.45,1.5],"labels":false,"grid":false,"tickColor":"#222","tickSize":-3,"domain":false}},"x2":{"field":"b"},"y":{"field":"c","type":"quantitative","title":null,"scale":{"domain":[0,1.075],"range":[842.7,525]},"axis":{"orient":"right","offset":-44,"values":[0,0.1,0.2,0.3,0.4,0.5,0.6,0.7,0.8,0.9,1.0],"labels":false,"grid":false,"tickColor":"#222","tickSize":-3,"domain":false}},"y2":{"field":"d"}}},
 {"mark":{"type":"rect","opacity":0},"data":{"values":[{"a":0.6516,"b":1.5468,"c":0,"d":1.075}]},"encoding":{"x":{"field":"a","type":"quantitative","title":null,"scale":{"domain":[0.6516,1.5468],"range":[664.7,1114]},"axis":{"orient":"bottom","offset":-569.3,"values":[0.75,0.85,0.95,1.05,1.15,1.25,1.35,1.45],"labels":false,"grid":false,"tickColor":"#222","tickSize":-3,"domain":false}},"x2":{"field":"b"},"y":{"field":"c","type":"quantitative","title":null,"scale":{"domain":[0,1.075],"range":[842.7,525]},"axis":{"orient":"left","offset":-664.7,"values":[0.1,0.3,0.5,0.7,0.9],"labels":false,"grid":false,"tickColor":"#222","tickSize":-3,"domain":false}},"y2":{"field":"d"}}},
 {"mark":{"type":"bar","fill":"#ff0000","stroke":"#000","strokeWidth":1},"data":{"values":[{"a":1.2268,"b":1.2668,"v":0.988},{"a":1.2758,"b":1.3157,"v":0.012}]},"encoding":{"x":{"field":"a","type":"quantitative","axis":null,"scale":{"domain":[0.6516,1.5468],"range":[664.7,1114]}},"x2":{"field":"b"},"y":{"field":"v","type":"quantitative","axis":null,"scale":{"domain":[0,1.075],"range":[842.7,525]}},"y2":{"datum":0}}},
 {"mark":{"type":"rect","fill":"#000"},"data":{"values":[{"a":1.1683,"b":1.5329,"c":0.8665,"d":1.0135}]},"encoding":{"x":{"field":"a","type":"quantitative","axis":null,"scale":{"domain":[0.6516,1.5468],"range":[664.7,1114]}},"x2":{"field":"b"},"y":{"field":"c","type":"quantitative","axis":null,"scale":{"domain":[0,1.075],"range":[842.7,525]}},"y2":{"field":"d"}}},
 {"mark":{"type":"rect","fill":"#fff","stroke":"#000","strokeWidth":1},"data":{"values":[{"a":1.1603,"b":1.5249,"c":0.88,"d":1.027}]},"encoding":{"x":{"field":"a","type":"quantitative","axis":null,"scale":{"domain":[0.6516,1.5468],"range":[664.7,1114]}},"x2":{"field":"b"},"y":{"field":"c","type":"quantitative","axis":null,"scale":{"domain":[0,1.075],"range":[842.7,525]}},"y2":{"field":"d"}}},
 {"mark":{"type":"text","font":"DejaVu Sans","fontSize":11.5,"color":"#334","align":"left"},"data":{"values":[{"x":1.186,"y":0.98,"t":"Average diameter"},{"x":1.186,"y":0.93,"t":"Dispersion"}]},"encoding":{"x":{"field":"x","type":"quantitative","axis":null,"scale":{"domain":[0.6516,1.5468],"range":[664.7,1114]}},"y":{"field":"y","type":"quantitative","axis":null,"scale":{"domain":[0,1.075],"range":[842.7,525]}},"text":{"field":"t"}}},
 {"mark":{"type":"text","font":"DejaVu Sans","fontSize":11,"color":"#334","align":"right"},"data":{"values":[{"x":1.509,"y":0.98,"t":"1.248 nm"},{"x":1.506,"y":0.93,"t":"0.013 nm"}]},"encoding":{"x":{"field":"x","type":"quantitative","axis":null,"scale":{"domain":[0.6516,1.5468],"range":[664.7,1114]}},"y":{"field":"y","type":"quantitative","axis":null,"scale":{"domain":[0,1.075],"range":[842.7,525]}},"text":{"field":"t"}}},
 {"mark":{"type":"text","font":"Liberation Sans","fontWeight":"bold","fontSize":18,"color":"#000"},"data":{"values":[{"x":1.1045,"y":1.1364,"t":"Diameter Distribution from Fluorescence Analysis"}]},"encoding":{"x":{"field":"x","type":"quantitative","axis":null,"scale":{"domain":[0.6516,1.5468],"range":[664.7,1114]}},"y":{"field":"y","type":"quantitative","axis":null,"scale":{"domain":[0,1.075],"range":[842.7,525]}},"text":{"field":"t"}}},
 {"mark":{"type":"text","font":"Liberation Sans","fontWeight":"bold","fontSize":15.5,"color":"#000"},"data":{"values":[{"x":1.0965,"y":-0.1127,"t":"Nanotube diameter (nm)"}]},"encoding":{"x":{"field":"x","type":"quantitative","axis":null,"scale":{"domain":[0.6516,1.5468],"range":[664.7,1114]}},"y":{"field":"y","type":"quantitative","axis":null,"scale":{"domain":[0,1.075],"range":[842.7,525]}},"text":{"field":"t"}}},
 {"mark":{"type":"text","font":"Liberation Sans","fontWeight":"bold","fontSize":16,"color":"#000","angle":270},"data":{"values":[{"x":0.5685,"y":0.5,"t":"Relative abundance"}]},"encoding":{"x":{"field":"x","type":"quantitative","axis":null,"scale":{"domain":[0.6516,1.5468],"range":[664.7,1114]}},"y":{"field":"y","type":"quantitative","axis":null,"scale":{"domain":[0,1.075],"range":[842.7,525]}},"text":{"field":"t"}}},
 {"mark":{"type":"text","font":"Liberation Serif","fontWeight":"bold","fontSize":32,"color":"#000"},"data":{"values":[{"x":0.5904,"y":1.0657,"t":"D"}]},"encoding":{"x":{"field":"x","type":"quantitative","axis":null,"scale":{"domain":[0.6516,1.5468],"range":[664.7,1114]}},"y":{"field":"y","type":"quantitative","axis":null,"scale":{"domain":[0,1.075],"range":[842.7,525]}},"text":{"field":"t"}}},
 {"mark":{"type":"text","font":"Liberation Sans","fontWeight":"bold","fontSize":8,"color":"#000","align":"left"},"data":{"values":[{"x":0.5167,"y":-0.17,"t":"C:\\Spot\\12182011_sodiumcholate_ssb_mar_(8252011.sgl)"}]},"encoding":{"x":{"field":"x","type":"quantitative","axis":null,"scale":{"domain":[0.6516,1.5468],"range":[664.7,1114]}},"y":{"field":"y","type":"quantitative","axis":null,"scale":{"domain":[0,1.075],"range":[842.7,525]}},"text":{"field":"t"}}},
 {"mark":{"type":"text","font":"Liberation Sans","fontWeight":"bold","fontSize":8,"color":"#000","align":"right"},"data":{"values":[{"x":1.6344,"y":-0.17,"t":"4:53:13 PM 12/18/2011"}]},"encoding":{"x":{"field":"x","type":"quantitative","axis":null,"scale":{"domain":[0.6516,1.5468],"range":[664.7,1114]}},"y":{"field":"y","type":"quantitative","axis":null,"scale":{"domain":[0,1.075],"range":[842.7,525]}},"text":{"field":"t"}}}
]},
{"encoding":{"x":{"type":"quantitative","axis":null,"scale":{"domain":[3,19],"range":[-1,591]}},"y":{"type":"quantitative","axis":null,"scale":{"domain":[-4,11],"range":[877,1334.5]}}},"layer":[
 {"mark":{"type":"point","shape":"M0,-1L0.866,-0.5L0.866,0.5L0,1L-0.866,0.5L-0.866,-0.5Z","filled":false,"stroke":"#c8c8c8","strokeWidth":1,"size":1681,"opacity":1},"data":{"name":"hexGray"},"encoding":{"x":{"field":"c"},"y":{"field":"m"}}},
 {"mark":{"type":"point","shape":"M0,-1L0.866,-0.5L0.866,0.5L0,1L-0.866,0.5L-0.866,-0.5Z","filled":false,"stroke":"#c8c8c8","strokeWidth":1,"size":1225,"opacity":1},"data":{"name":"hexGray"},"encoding":{"x":{"field":"c"},"y":{"field":"m"}}},
 {"mark":{"type":"point","shape":"M0,-1L0.866,-0.5L0.866,0.5L0,1L-0.866,0.5L-0.866,-0.5Z","filled":true,"fill":"#0000e6","size":1600,"opacity":1,"strokeWidth":0},"data":{"name":"hexBlue"},"encoding":{"x":{"field":"c"},"y":{"field":"m"}}},
 {"mark":{"type":"point","shape":"M0,-1L0.866,-0.5L0.866,0.5L0,1L-0.866,0.5L-0.866,-0.5Z","filled":true,"fill":"#ffffff","opacity":1,"strokeWidth":0},"data":{"name":"hexBlue"},"encoding":{"x":{"field":"c"},"y":{"field":"m"},"size":{"field":"e","type":"quantitative","legend":null,"scale":{"type":"pow","exponent":2,"domain":[0,1],"range":[0,1600]}}}},
 {"mark":{"type":"text","font":"Liberation Sans","fontSize":11,"color":"#4a4a4a"},"data":{"name":"hexBlue"},"encoding":{"x":{"field":"c"},"y":{"field":"m"},"text":{"field":"t"}}},
 {"mark":{"type":"text","font":"Liberation Sans","fontWeight":"bold","fontSize":11,"color":"#000"},"data":{"name":"hexGray"},"encoding":{"x":{"field":"c"},"y":{"field":"m"},"text":{"field":"t"}}},
 {"mark":{"type":"rule","color":"#2a2a8a","strokeWidth":1},"data":{"values":[{"a":5.24,"b":16.22,"c":-0.26,"d":-0.26},{"a":5.11,"b":15.19,"c":3.41,"d":10.13}]},"encoding":{"x":{"field":"a"},"x2":{"field":"b"},"y":{"field":"c"},"y2":{"field":"d"}}},
 {"mark":{"type":"text","font":"Liberation Sans","fontWeight":"bold","fontSize":19,"color":"#000","align":"right"},"data":{"values":[{"x":10.946,"y":-2.295,"t":"Distribution of ("}]},"encoding":{"x":{"field":"x"},"y":{"field":"y"},"text":{"field":"t"}}},
 {"mark":{"type":"text","font":"Liberation Sans","fontWeight":"bold","fontStyle":"italic","fontSize":19,"color":"#000"},"data":{"values":[{"x":11.351,"y":-2.295,"t":"n,m"}]},"encoding":{"x":{"field":"x"},"y":{"field":"y"},"text":{"field":"t"}}},
 {"mark":{"type":"text","font":"Liberation Sans","fontWeight":"bold","fontSize":19,"color":"#000","align":"left"},"data":{"values":[{"x":11.81,"y":-2.295,"t":") Species"}]},"encoding":{"x":{"field":"x"},"y":{"field":"y"},"text":{"field":"t"}}},
 {"mark":{"type":"text","font":"Liberation Sans","fontWeight":"bold","fontStyle":"italic","fontSize":14,"color":"#000"},"data":{"values":[{"x":15.19,"y":-0.85,"t":"zigzag"}]},"encoding":{"x":{"field":"x"},"y":{"field":"y"},"text":{"field":"t"}}},
 {"mark":{"type":"text","font":"Liberation Sans","fontWeight":"bold","fontStyle":"italic","fontSize":14,"color":"#000","angle":30},"data":{"values":[{"x":12.62,"y":9.11,"t":"armchair"}]},"encoding":{"x":{"field":"x"},"y":{"field":"y"},"text":{"field":"t"}}},
 {"mark":{"type":"text","font":"Liberation Serif","fontWeight":"bold","fontSize":32,"color":"#000"},"data":{"values":[{"x":4.35,"y":0.62,"t":"E"},{"x":4.38,"y":9.44,"t":"G"}]},"encoding":{"x":{"field":"x"},"y":{"field":"y"},"text":{"field":"t"}}},
 {"mark":{"type":"text","font":"Liberation Sans","fontWeight":"bold","fontSize":7,"color":"#000070","align":"left"},"data":{"values":[{"x":4.595,"y":-2.918,"t":"Applied"},{"x":4.595,"y":-2.525,"t":"NanoFluorescence"}]},"encoding":{"x":{"field":"x"},"y":{"field":"y"},"text":{"field":"t"}}},
 {"mark":{"type":"text","font":"DejaVu Sans","fontSize":7,"color":"#222","align":"left"},"data":{"values":[{"x":3.73,"y":-3.05,"t":"┴┴┴┴┴"},{"x":3.73,"y":-2.754,"t":"┬┬┬┬┬"},{"x":4.11,"y":-2.426,"t":"┬┬"}]},"encoding":{"x":{"field":"x"},"y":{"field":"y"},"text":{"field":"t"}}},
 {"mark":{"type":"line","color":"#e02020","strokeWidth":1},"data":{"values":[{"x":3.243,"y":-3.016},{"x":3.514,"y":-2.984},{"x":3.784,"y":-2.852},{"x":4.108,"y":-2.852},{"x":4.514,"y":-2.721}]},"encoding":{"x":{"field":"x"},"y":{"field":"y"}}},
 {"mark":{"type":"text","font":"Liberation Sans","fontWeight":"bold","fontSize":8,"color":"#000","align":"left"},"data":{"values":[{"x":3.243,"y":10.66,"t":"C:\\Spot\\12182011_salmon_ssb_mar_(8252011.sgl)"}]},"encoding":{"x":{"field":"x"},"y":{"field":"y"},"text":{"field":"t"}}},
 {"mark":{"type":"text","font":"Liberation Sans","fontWeight":"bold","fontSize":8,"color":"#000","align":"right"},"data":{"values":[{"x":18.84,"y":10.66,"t":"4:51:50 PM 12/18/2011"}]},"encoding":{"x":{"field":"x"},"y":{"field":"y"},"text":{"field":"t"}}}
]},
{"encoding":{"x":{"type":"quantitative","axis":null,"scale":{"domain":[3,19],"range":[575,1167]}},"y":{"type":"quantitative","axis":null,"scale":{"domain":[-4,11],"range":[877,1334.5]}}},"layer":[
 {"mark":{"type":"point","shape":"M0,-1L0.866,-0.5L0.866,0.5L0,1L-0.866,0.5L-0.866,-0.5Z","filled":false,"stroke":"#c8c8c8","strokeWidth":1,"size":1681,"opacity":1},"data":{"name":"hexGray"},"encoding":{"x":{"field":"c"},"y":{"field":"m"}}},
 {"mark":{"type":"point","shape":"M0,-1L0.866,-0.5L0.866,0.5L0,1L-0.866,0.5L-0.866,-0.5Z","filled":false,"stroke":"#c8c8c8","strokeWidth":1,"size":1225,"opacity":1},"data":{"name":"hexGray"},"encoding":{"x":{"field":"c"},"y":{"field":"m"}}},
 {"mark":{"type":"point","shape":"M0,-1L0.866,-0.5L0.866,0.5L0,1L-0.866,0.5L-0.866,-0.5Z","filled":true,"fill":"#0000e6","size":1600,"opacity":1,"strokeWidth":0},"data":{"name":"hexBlue"},"encoding":{"x":{"field":"c"},"y":{"field":"m"}}},
 {"mark":{"type":"point","shape":"M0,-1L0.866,-0.5L0.866,0.5L0,1L-0.866,0.5L-0.866,-0.5Z","filled":true,"fill":"#ffffff","opacity":1,"strokeWidth":0},"data":{"name":"hexBlue"},"encoding":{"x":{"field":"c"},"y":{"field":"m"},"size":{"field":"f","type":"quantitative","legend":null,"scale":{"type":"pow","exponent":2,"domain":[0,1],"range":[0,1600]}}}},
 {"mark":{"type":"text","font":"Liberation Sans","fontSize":11,"color":"#4a4a4a"},"data":{"name":"hexBlue"},"encoding":{"x":{"field":"c"},"y":{"field":"m"},"text":{"field":"t"}}},
 {"mark":{"type":"text","font":"Liberation Sans","fontWeight":"bold","fontSize":11,"color":"#000"},"data":{"name":"hexGray"},"encoding":{"x":{"field":"c"},"y":{"field":"m"},"text":{"field":"t"}}},
 {"mark":{"type":"rule","color":"#2a2a8a","strokeWidth":1},"data":{"values":[{"a":5.22,"b":16.19,"c":-0.26,"d":-0.26},{"a":5.08,"b":15.19,"c":3.41,"d":10.13}]},"encoding":{"x":{"field":"a"},"x2":{"field":"b"},"y":{"field":"c"},"y2":{"field":"d"}}},
 {"mark":{"type":"text","font":"Liberation Sans","fontWeight":"bold","fontSize":19,"color":"#000","align":"right"},"data":{"values":[{"x":10.946,"y":-2.295,"t":"Distribution of ("}]},"encoding":{"x":{"field":"x"},"y":{"field":"y"},"text":{"field":"t"}}},
 {"mark":{"type":"text","font":"Liberation Sans","fontWeight":"bold","fontStyle":"italic","fontSize":19,"color":"#000"},"data":{"values":[{"x":11.351,"y":-2.295,"t":"n,m"}]},"encoding":{"x":{"field":"x"},"y":{"field":"y"},"text":{"field":"t"}}},
 {"mark":{"type":"text","font":"Liberation Sans","fontWeight":"bold","fontSize":19,"color":"#000","align":"left"},"data":{"values":[{"x":11.81,"y":-2.295,"t":") Species"}]},"encoding":{"x":{"field":"x"},"y":{"field":"y"},"text":{"field":"t"}}},
 {"mark":{"type":"text","font":"Liberation Sans","fontWeight":"bold","fontStyle":"italic","fontSize":14,"color":"#000"},"data":{"values":[{"x":15.16,"y":-0.85,"t":"zigzag"}]},"encoding":{"x":{"field":"x"},"y":{"field":"y"},"text":{"field":"t"}}},
 {"mark":{"type":"text","font":"Liberation Sans","fontWeight":"bold","fontStyle":"italic","fontSize":14,"color":"#000","angle":30},"data":{"values":[{"x":12.62,"y":9.11,"t":"armchair"}]},"encoding":{"x":{"field":"x"},"y":{"field":"y"},"text":{"field":"t"}}},
 {"mark":{"type":"text","font":"Liberation Serif","fontWeight":"bold","fontSize":32,"color":"#000"},"data":{"values":[{"x":5,"y":0.62,"t":"F"},{"x":5.03,"y":9.44,"t":"H"}]},"encoding":{"x":{"field":"x"},"y":{"field":"y"},"text":{"field":"t"}}},
 {"mark":{"type":"text","font":"Liberation Sans","fontWeight":"bold","fontSize":7,"color":"#000070","align":"left"},"data":{"values":[{"x":4.595,"y":-2.918,"t":"Applied"},{"x":4.595,"y":-2.525,"t":"NanoFluorescence"}]},"encoding":{"x":{"field":"x"},"y":{"field":"y"},"text":{"field":"t"}}},
 {"mark":{"type":"text","font":"DejaVu Sans","fontSize":7,"color":"#222","align":"left"},"data":{"values":[{"x":3.73,"y":-3.05,"t":"┴┴┴┴┴"},{"x":3.73,"y":-2.754,"t":"┬┬┬┬┬"},{"x":4.11,"y":-2.426,"t":"┬┬"}]},"encoding":{"x":{"field":"x"},"y":{"field":"y"},"text":{"field":"t"}}},
 {"mark":{"type":"line","color":"#e02020","strokeWidth":1},"data":{"values":[{"x":3.243,"y":-3.016},{"x":3.514,"y":-2.984},{"x":3.784,"y":-2.852},{"x":4.108,"y":-2.852},{"x":4.514,"y":-2.721}]},"encoding":{"x":{"field":"x"},"y":{"field":"y"}}},
 {"mark":{"type":"text","font":"Liberation Sans","fontWeight":"bold","fontSize":8,"color":"#000","align":"left"},"data":{"values":[{"x":3.19,"y":10.66,"t":"C:\\Spot\\12182011_sodiumcholate_ssb_mar_(8252011.sgl)"}]},"encoding":{"x":{"field":"x"},"y":{"field":"y"},"text":{"field":"t"}}},
 {"mark":{"type":"text","font":"Liberation Sans","fontWeight":"bold","fontSize":8,"color":"#000","align":"right"},"data":{"values":[{"x":18.7,"y":10.66,"t":"4:52:50 PM 12/18/2011"}]},"encoding":{"x":{"field":"x"},"y":{"field":"y"},"text":{"field":"t"}}}
]},
{"encoding":{"x":{"type":"quantitative","axis":null,"scale":{"domain":[0,1,2,3,4],"range":[8,200,327,453,580]}},"y":{"type":"quantitative","axis":null,"scale":{"domain":[0,1,2],"range":[1333,1374.5,1412]}}},"layer":[
 {"mark":{"type":"rule","color":"#c8d0e4","strokeWidth":2},"data":{"values":[{"a":1,"c":0,"d":2},{"a":2,"c":0,"d":2},{"a":3,"c":0,"d":2}]},"encoding":{"x":{"field":"a"},"y":{"field":"c"},"y2":{"field":"d"}}},
 {"mark":{"type":"rule","color":"#c8d0e4","strokeWidth":2},"data":{"values":[{"a":0,"b":4,"c":1}]},"encoding":{"x":{"field":"a"},"x2":{"field":"b"},"y":{"field":"c"}}},
 {"mark":{"type":"rule","color":"#000","strokeWidth":3},"data":{"values":[{"a":0,"b":4,"c":0}]},"encoding":{"x":{"field":"a"},"x2":{"field":"b"},"y":{"field":"c"}}},
 {"mark":{"type":"rule","color":"#000","strokeWidth":3},"data":{"values":[{"a":0,"c":0,"d":2},{"a":4,"c":0,"d":2}]},"encoding":{"x":{"field":"a"},"y":{"field":"c"},"y2":{"field":"d"}}},
 {"mark":{"type":"text","font":"Lato","fontSize":25,"color":"#222","align":"left"},"data":{"values":[{"x":0.026,"y":0.58,"t":"DNA:SWCNT"},{"x":1.05,"y":0.58,"t":"638 nm"},{"x":2.05,"y":0.58,"t":"690 nm"},{"x":3.05,"y":0.58,"t":"784 nm"},{"x":0.026,"y":1.62,"t":"Efficiency"}]},"encoding":{"x":{"field":"x"},"y":{"field":"y"},"text":{"field":"t"}}},
 {"mark":{"type":"text","font":"Lato","fontSize":25,"color":"#222","align":"right"},"data":{"values":[{"x":1.97,"y":1.62,"t":"1.09507"},{"x":2.97,"y":1.62,"t":"0.75541"},{"x":3.97,"y":1.62,"t":"1.6632"}]},"encoding":{"x":{"field":"x"},"y":{"field":"y"},"text":{"field":"t"}}}
]},
{"encoding":{"x":{"type":"quantitative","axis":null,"scale":{"domain":[0,1,2,3,4],"range":[583,777,905,1030,1156]}},"y":{"type":"quantitative","axis":null,"scale":{"domain":[0,1,2],"range":[1333,1374.5,1412]}}},"layer":[
 {"mark":{"type":"rule","color":"#c8d0e4","strokeWidth":2},"data":{"values":[{"a":1,"c":0,"d":2},{"a":2,"c":0,"d":2},{"a":3,"c":0,"d":2}]},"encoding":{"x":{"field":"a"},"y":{"field":"c"},"y2":{"field":"d"}}},
 {"mark":{"type":"rule","color":"#c8d0e4","strokeWidth":2},"data":{"values":[{"a":0,"b":4,"c":1}]},"encoding":{"x":{"field":"a"},"x2":{"field":"b"},"y":{"field":"c"}}},
 {"mark":{"type":"rule","color":"#000","strokeWidth":3},"data":{"values":[{"a":0,"b":4,"c":0}]},"encoding":{"x":{"field":"a"},"x2":{"field":"b"},"y":{"field":"c"}}},
 {"mark":{"type":"rule","color":"#000","strokeWidth":3},"data":{"values":[{"a":0,"c":0,"d":2},{"a":4,"c":0,"d":2}]},"encoding":{"x":{"field":"a"},"y":{"field":"c"},"y2":{"field":"d"}}},
 {"mark":{"type":"text","font":"Lato","fontSize":25,"color":"#222","align":"left"},"data":{"values":[{"x":0.026,"y":0.58,"t":"SC:SWCNT"},{"x":1.03,"y":0.58,"t":"638 nm"},{"x":2.03,"y":0.58,"t":"690 nm"},{"x":3.03,"y":0.58,"t":"784 nm"},{"x":0.026,"y":1.62,"t":"Efficiency"}]},"encoding":{"x":{"field":"x"},"y":{"field":"y"},"text":{"field":"t"}}},
 {"mark":{"type":"text","font":"Lato","fontSize":25,"color":"#222","align":"right"},"data":{"values":[{"x":1.95,"y":1.62,"t":"-0.6205"},{"x":2.97,"y":1.62,"t":"-0.23424"},{"x":3.97,"y":1.62,"t":"-0.87946"}]},"encoding":{"x":{"field":"x"},"y":{"field":"y"},"text":{"field":"t"}}}
]}
]
}
